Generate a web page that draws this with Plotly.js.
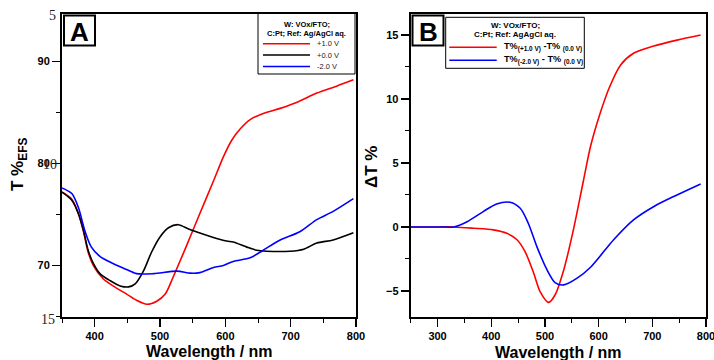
<!DOCTYPE html>
<html>
<head>
<meta charset="utf-8">
<script src="https://cdn.plot.ly/plotly-3.0.1.min.js"></script>
<style>html,body{margin:0;padding:0;background:#fff}#chart{width:714px;height:360px}</style>
</head>
<body>
<div id="chart"></div>
<script>
// ---- Panel A data: transmittance T% vs wavelength ----
const wlRedA = [350, 365, 375, 383, 390, 398, 413, 428, 449, 464, 480, 495, 508, 520, 541, 561, 582, 597, 610, 623, 638, 658, 684, 710, 740, 771, 796];
const tRedA  = [77.2, 76.5, 75.1, 73.3, 71.3, 70.0, 68.7, 68.0, 67.2, 66.6, 66.2, 66.5, 67.2, 68.85, 72.0, 75.1, 78.3, 80.65, 82.3, 83.4, 84.3, 84.9, 85.4, 86.0, 86.9, 87.6, 88.2];

const wlBlackA = [350, 365, 375, 383, 390, 398, 408, 424, 439, 452, 462, 475, 487, 500, 513, 528, 543, 551, 577, 602, 612, 633, 648, 663, 699, 720, 740, 765, 796];
const tBlackA  = [77.2, 76.4, 75.1, 73.4, 71.5, 70.2, 69.2, 68.5, 68.0, 67.9, 68.2, 69.5, 71.3, 72.8, 73.7, 74.0, 73.6, 73.4, 72.85, 72.4, 72.3, 71.8, 71.5, 71.4, 71.4, 71.6, 72.2, 72.5, 73.2];

const wlBlueA = [350, 365, 375, 385, 395, 408, 428, 449, 464, 490, 526, 546, 561, 582, 597, 612, 638, 658, 684, 714, 740, 765, 796];
const tBlueA  = [77.6, 77.05, 75.7, 73.4, 71.8, 70.9, 70.2, 69.6, 69.2, 69.2, 69.45, 69.25, 69.3, 69.8, 70.0, 70.4, 70.75, 71.5, 72.5, 73.3, 74.5, 75.3, 76.55];

// ---- Panel B data: delta T% vs wavelength ----
const wlRedB = [250, 300, 330, 367, 404, 429, 448, 463, 479, 491, 507, 519, 535, 553, 572, 585, 603, 620, 641, 665, 703, 746, 790];
const dRedB  = [0, 0, 0, -0.1, -0.23, -0.5, -1.0, -1.93, -3.6, -5.05, -5.9, -5.3, -3.36, -0.23, 3.67, 6.3, 8.9, 10.9, 12.66, 13.57, 14.14, 14.6, 15.0];

const wlBlueB = [250, 305, 330, 355, 385, 410, 435, 454, 469, 485, 504, 519, 535, 560, 585, 628, 665, 703, 746, 790];
const dBlueB  = [0, 0, 0, 0.41, 1.2, 1.8, 1.93, 1.46, 0.29, -1.54, -3.36, -4.35, -4.53, -4.0, -3.15, -1.0, 0.55, 1.6, 2.5, 3.36];

const legendA = ['+1.0 V', '+0.0 V', '-2.0 V'];
const legendB = ['T%<sub>(+1.0 V)</sub> -T% <sub>(0.0 V)</sub>', 'T%<sub>(-2.0 V)</sub> - T% <sub>(0.0 V)</sub>'];

const W = 714, H = 360;
const PX = p => p / W;
const PY = p => 1 - p / H;
const FONT = 'Liberation Sans, Arial, sans-serif';

const lineStyle = c => ({color: c, width: 1.6, shape: 'spline', smoothing: 0.8});

const traces = [
  {x: wlRedA, y: tRedA, mode: 'lines', line: lineStyle('#ff0000'), xaxis: 'x', yaxis: 'y', name: legendA[0]},
  {x: wlBlackA, y: tBlackA, mode: 'lines', line: lineStyle('#000000'), xaxis: 'x', yaxis: 'y', name: legendA[1]},
  {x: wlBlueA, y: tBlueA, mode: 'lines', line: lineStyle('#0000ff'), xaxis: 'x', yaxis: 'y', name: legendA[2]},
  {x: wlRedB, y: dRedB, mode: 'lines', line: lineStyle('#ff0000'), xaxis: 'x2', yaxis: 'y2', name: 'B1'},
  {x: wlBlueB, y: dBlueB, mode: 'lines', line: lineStyle('#0000ff'), xaxis: 'x2', yaxis: 'y2', name: 'B2'}
];

const axisCommon = {
  showline: true, mirror: true, linecolor: '#000', linewidth: 2,
  ticks: 'outside', tickcolor: '#000', tickwidth: 1.3, ticklen: 8,
  showgrid: false, zeroline: false, ticklabeloverflow: 'allow',
  tickfont: {family: FONT, size: 11, color: '#000', weight: 'bold'},
  fixedrange: true
};

const layout = {
  width: W, height: H,
  margin: {l: 0, r: 0, t: 0, b: 0},
  paper_bgcolor: '#fff', plot_bgcolor: '#fff',
  showlegend: false,
  xaxis: Object.assign({}, axisCommon, {domain: [PX(62), PX(356)], range: [350, 800], tick0: 0, dtick: 100, anchor: 'y',
    minor: {dtick: 50, ticks: 'outside', ticklen: 4, tickwidth: 1, tickcolor: '#000', showgrid: false}}),
  yaxis: Object.assign({}, axisCommon, {domain: [PY(316.5), PY(13.5)], range: [65, 94.7], tick0: 0, dtick: 10, anchor: 'x',
    minor: {dtick: 5, ticks: 'outside', ticklen: 4, tickwidth: 1, tickcolor: '#000', showgrid: false}}),
  xaxis2: Object.assign({}, axisCommon, {domain: [PX(410.7), PX(706)], range: [250, 800], tick0: 0, dtick: 100, anchor: 'y2',
    minor: {dtick: 50, ticks: 'outside', ticklen: 4, tickwidth: 1, tickcolor: '#000', showgrid: false}}),
  yaxis2: Object.assign({}, axisCommon, {domain: [PY(316.5), PY(14)], range: [-7, 16.64], tick0: 0, dtick: 5, anchor: 'x2',
    minor: {dtick: 2.5, ticks: 'outside', ticklen: 4, tickwidth: 1, tickcolor: '#000', showgrid: false}}),
  shapes: [],
  annotations: []
};

const ann = layout.annotations, shp = layout.shapes;
const addText = (text, x, y, opts) => ann.push(Object.assign({
  text: text, xref: 'paper', yref: 'paper', x: PX(x), y: PY(y), showarrow: false,
  xanchor: 'center', yanchor: 'middle', font: {family: FONT, size: 10, color: '#000'}
}, opts || {}));

// Axis titles
addText('<b>T %<sub>EFS</sub></b>', 19, 165, {textangle: -90, font: {family: FONT, size: 17, color: '#000'}});
addText('<b>Wavelength / nm</b>', 209, 351, {font: {family: FONT, size: 16, color: '#000'}});
addText('<b>\u0394T %</b>', 371, 167, {textangle: -90, font: {family: FONT, size: 17, color: '#000'}});
addText('<b>Wavelength / nm</b>', 558, 352, {font: {family: FONT, size: 16, color: '#000'}});

// stray serif labels on panel A axis
const serifF = {family: 'Liberation Serif, Times New Roman, serif', size: 14, color: '#222'};
addText('5', 52, 16, {font: serifF});
addText('10', 50, 165, {font: serifF});
addText('15', 48, 319, {font: serifF});

// Panel letters
const boxLetter = (t, x0, y0, x1, y1) => {
  shp.push({type: 'rect', xref: 'paper', yref: 'paper', x0: PX(x0), x1: PX(x1), y0: PY(y0), y1: PY(y1),
    line: {color: '#000', width: 2}, fillcolor: '#fff'});
  addText('<b>' + t + '</b>', (x0 + x1) / 2, (y0 + y1) / 2 + 1, {font: {family: FONT, size: 26, color: '#000'}});
};
boxLetter('A', 64, 15.5, 95, 45.5);
boxLetter('B', 412.5, 15.5, 443.5, 45.5);

// Legend A
shp.push({type: 'rect', xref: 'paper', yref: 'paper', x0: PX(258), x1: PX(355), y0: PY(74), y1: PY(13.5),
  line: {color: '#000', width: 1}, fillcolor: '#fff'});
const fA = {family: FONT, size: 7.5, color: '#000'};
addText('<b>W: VOx/FTO;</b>', 306.5, 24.2, {font: fA});
addText('<b>C:Pt; Ref: Ag/AgCl aq.</b>', 306.5, 33.6, {font: fA});
const colsA = ['#ff0000', '#000000', '#0000ff'];
const rowsA = [43.7, 55, 66.5];
legendA.forEach((t, i) => {
  shp.push({type: 'line', xref: 'paper', yref: 'paper', x0: PX(263), x1: PX(310), y0: PY(rowsA[i]), y1: PY(rowsA[i]),
    line: {color: colsA[i], width: 1.6}});
  addText(t, 315, rowsA[i], {xanchor: 'left', font: {family: FONT, size: 7.5, color: '#222'}});
});

// Legend B
shp.push({type: 'rect', xref: 'paper', yref: 'paper', x0: PX(445.7), x1: PX(584.3), y0: PY(68.3), y1: PY(17.3),
  line: {color: '#000', width: 1}, fillcolor: '#fff'});
const fB = {family: FONT, size: 8, color: '#000'};
addText('<b>W: VOx/FTO;</b>', 515, 25.3, {font: fB});
addText('<b>C:Pt; Ref: AgAgCl aq.</b>', 515, 34.6, {font: fB});
const colsB = ['#ff0000', '#0000ff'];
const rowsB = [47.3, 60.3];
legendB.forEach((t, i) => {
  shp.push({type: 'line', xref: 'paper', yref: 'paper', x0: PX(449.3), x1: PX(496.7), y0: PY(rowsB[i]), y1: PY(rowsB[i]),
    line: {color: colsB[i], width: 1.6}});
  addText('<b>' + t + '</b>', 501.7, rowsB[i], {xanchor: 'left', font: {family: FONT, size: 9.2, color: '#000'}});
});

Plotly.newPlot('chart', traces, layout, {staticPlot: true, displayModeBar: false});
</script>
</body>
</html>
